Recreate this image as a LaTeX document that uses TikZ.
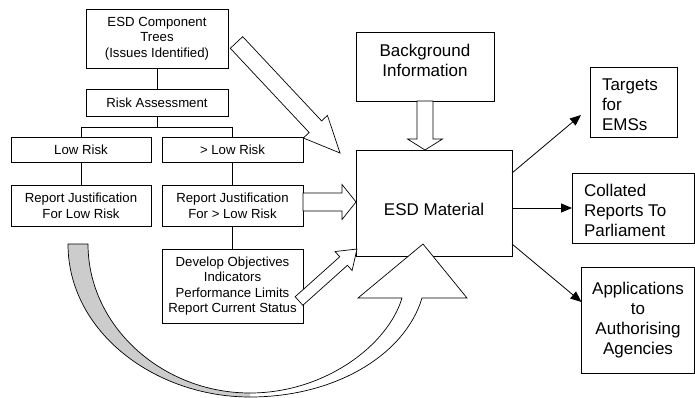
\documentclass[tikz,border=0pt]{standalone}
\usepackage{fontspec}
\setmainfont{Liberation Sans}
\usetikzlibrary{arrows.meta,calc}
\newcommand\fsmallx{\fontsize{13.2}{15.6}\selectfont}
\newcommand\fbigx{\fontsize{17}{19.8}\selectfont}
\tikzset{
  box/.style={draw, line width=0.8pt, inner sep=0pt, outer sep=0pt, align=center, font=\fsmallx},
  bigtxt/.style={inner sep=0pt, outer sep=0pt, align=center, font=\fbigx},
  treeline/.style={line width=0.8pt},
  thinarrow/.style={line width=0.8pt, -{Triangle[length=11pt,width=9pt]}},
  hollow/.style={draw, fill=white, line width=0.7pt, line join=miter},
  ribbon/.style={draw, line width=0.7pt, line join=miter},
}
\newcommand\hollowarrow[5]{%
  \path (#1); \pgfgetlastxy{\HAax}{\HAay}%
  \path (#2); \pgfgetlastxy{\HAbx}{\HAby}%
  \pgfmathsetmacro\HAang{atan2((\HAby)-(\HAay),(\HAbx)-(\HAax))}%
  \pgfmathsetmacro\HAlen{veclen((\HAbx)-(\HAax),(\HAby)-(\HAay))}%
  \pgfmathsetmacro\HAbase{\HAlen-#5}%
  \pgfmathsetmacro\HAw{#3/2}%
  \pgfmathsetmacro\HAh{#4/2}%
  \begin{scope}[shift={(\HAax,\HAay)},rotate=\HAang]
    \draw[hollow] (0pt,-\HAw pt) -- (\HAbase pt,-\HAw pt) -- (\HAbase pt,-\HAh pt) -- (\HAlen pt,0pt) -- (\HAbase pt,\HAh pt) -- (\HAbase pt,\HAw pt) -- (0pt,\HAw pt) -- cycle;
  \end{scope}}
\begin{document}
\begin{tikzpicture}[x=1pt,y=-1pt]
\useasboundingbox (0,0) rectangle (695,398);
% left tree
\node[box, minimum width=142pt, minimum height=59pt] (trees) at (157,38.5) {ESD Component\\Trees\\(Issues Identified)};
\node[box, minimum width=142pt, minimum height=27pt] (risk) at (157,102.5) {Risk Assessment};
\node[box, minimum width=140pt, minimum height=25pt] (low) at (81,149.5) {Low Risk};
\node[box, minimum width=141pt, minimum height=25pt] (notlow) at (232.5,149.5) {> Low Risk};
\node[box, minimum width=140pt, minimum height=41pt] (replow) at (81,205.5) {Report Justification\\For Low Risk};
\node[box, minimum width=141pt, minimum height=41pt] (repnot) at (232.5,205.5) {Report Justification\\For > Low Risk};
\node[box, minimum width=141pt, minimum height=74pt] (dev) at (232.5,286) {Develop Objectives\\Indicators\\Performance Limits\\Report Current Status};
% centre and right
\node[box, minimum width=138pt, minimum height=69pt] (bg) at (425,66.5) {};
\node[bigtxt, anchor=north] (bgtext) at (425,44.3) {Background\\Information};
\node[box, minimum width=156pt, minimum height=106pt] (esd) at (434,203) {};
\node[bigtxt, anchor=base] (esdtext) at (434,215) {ESD Material};
\node[box, minimum width=87pt, minimum height=70pt] (tgt) at (633.5,102) {};
\node[bigtxt, anchor=north west, align=left] (tgttext) at (602,79.3) {Targets\\for\\EMSs};
\node[box, minimum width=122pt, minimum height=70pt] (coll) at (633,208) {};
\node[bigtxt, anchor=north west, align=left] (colltext) at (584,184.3) {Collated\\Reports To\\Parliament};
\node[box, font=\fbigx, minimum width=113pt, minimum height=106pt] (app) at (638,320) {Applications\\to\\Authorising\\Agencies};
% tree lines
\draw[treeline] (trees.south) -- (risk.north);
\draw[treeline] (risk.south) -- ++(0,11) coordinate (br);
\draw[treeline] (br) -| (low.north);
\draw[treeline] (br) -| (notlow.north);
\draw[treeline] (low.south) -- (replow.north);
\draw[treeline] (notlow.south) -- (repnot.north);
\draw[treeline] (repnot.south) -- (dev.north);
% output arrows
\coordinate (tgtip) at (581,115);
\draw[thinarrow] ($(esd.north east)+(0,23)$) -- (tgtip);
\draw[thinarrow] (esd.east |- coll.west) -- (coll.west);
\draw[thinarrow] ($(esd.south east)+(0,-12)$) -- ($(app.north west)+(0,35)$);
% hollow block arrows
\coordinate (ta) at (236.5,42.5); \coordinate (tb) at (340,153);
\hollowarrow{ta}{tb}{17}{33}{36}
\coordinate (ra) at ($(repnot.east)+(0,-3.5)$); \coordinate (rb) at (ra -| esd.west);
\hollowarrow{ra}{rb}{18}{35}{14}
\coordinate (da) at (299,301); \coordinate (db) at (357,249);
\hollowarrow{da}{db}{11.5}{25.5}{18}
\coordinate (ba) at (bg.south); \coordinate (bb) at (bg.south |- esd.north);
\hollowarrow{ba}{bb}{16}{35}{11}
% curved ribbon arrow
\fill[white] (68,244) .. controls (68,332) and (155,397) .. (250,397)
  .. controls (335,397) and (405,355) .. (422,298) -- (467,298) -- (423,244) -- (358,298) -- (402,298)
  .. controls (388,345) and (325,393) .. (250,393)
  .. controls (162,393) and (88,326) .. (88,244) -- cycle;
\fill[gray!40] (68,244) .. controls (68,332) and (155,397) .. (250,397) -- (250,393)
  .. controls (162,393) and (88,326) .. (88,244) -- cycle;
\draw[ribbon] (68,244) .. controls (68,332) and (155,397) .. (250,397)
  .. controls (335,397) and (405,355) .. (422,298) -- (467,298) -- (423,244) -- (358,298) -- (402,298)
  .. controls (388,345) and (325,393) .. (250,393)
  .. controls (162,393) and (88,326) .. (88,244) -- cycle;
\end{tikzpicture}
\end{document}
